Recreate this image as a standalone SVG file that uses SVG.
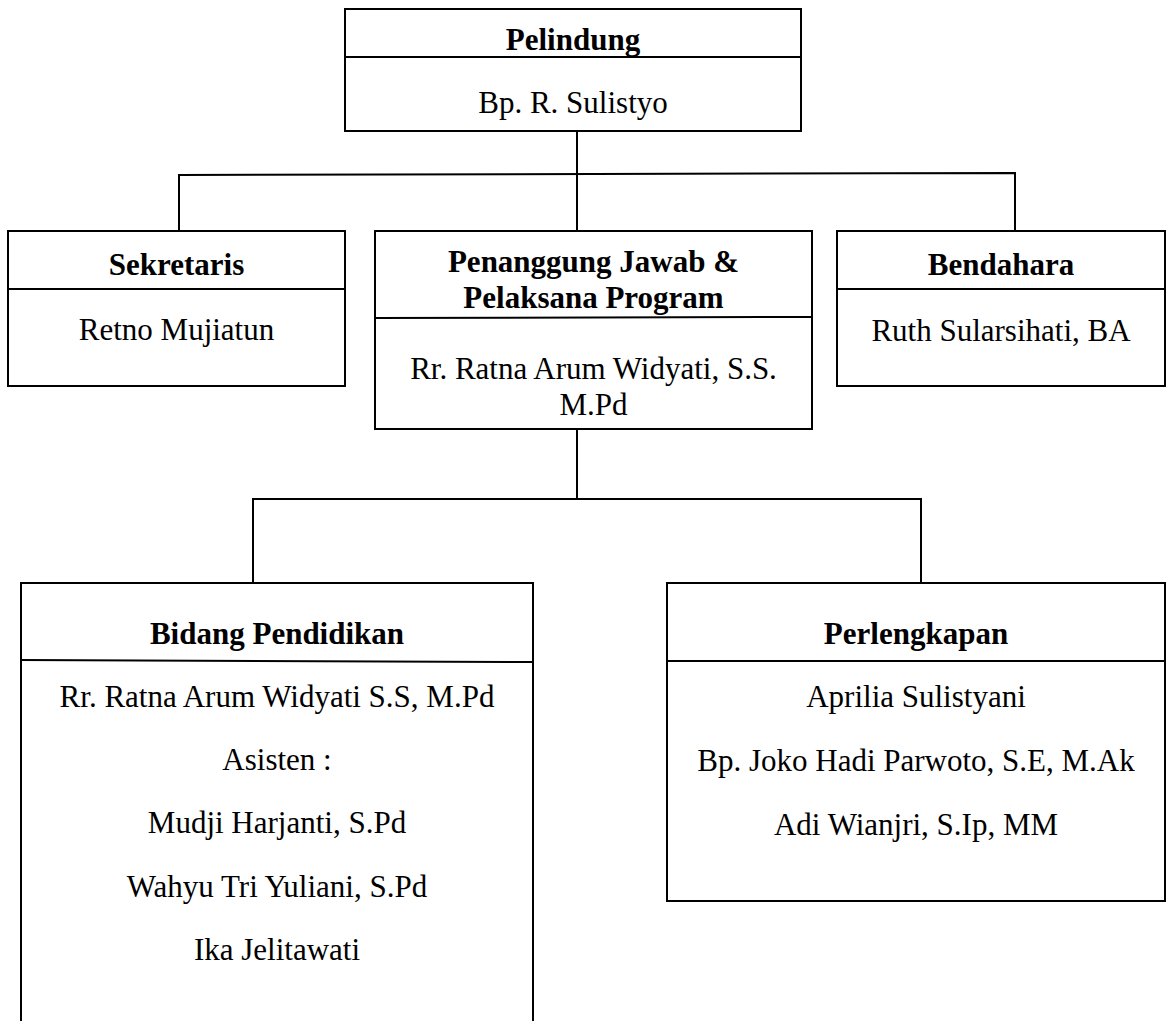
<svg xmlns="http://www.w3.org/2000/svg" width="1167" height="1021" viewBox="0 0 1167 1021">
<style>
.box{fill:#fff;stroke:#000;stroke-width:2}
.div{stroke:#000;stroke-width:2;fill:none}
.con{stroke:#000;stroke-width:2;fill:none}
text{font-family:"Liberation Serif","Times New Roman",serif;font-size:31px;fill:#000;text-anchor:middle}
.t{font-weight:bold}
</style>
<rect width="1167" height="1021" fill="#fff"/>
<g id="connectors">
<line class="con" x1="577" y1="131" x2="577" y2="231"/>
<polyline class="con" points="179,231 179,175 1015,173 1015,231"/>
<line class="con" x1="577" y1="429" x2="577" y2="499"/>
<polyline class="con" points="253,583 253,499 921,499 921,583"/>
</g>
<g id="pelindung">
<rect class="box" x="345" y="9" width="456" height="122"/>
<line class="div" x1="345" y1="57" x2="801" y2="57"/>
<text class="t" x="573" y="50">Pelindung</text>
<text x="573" y="113">Bp. R. Sulistyo</text>
</g>
<g id="sekretaris">
<rect class="box" x="8" y="231" width="337" height="155"/>
<line class="div" x1="8" y1="289" x2="345" y2="289"/>
<text class="t" x="176.5" y="275">Sekretaris</text>
<text x="176.5" y="340">Retno Mujiatun</text>
</g>
<g id="penanggung">
<rect class="box" x="375" y="231" width="437" height="198"/>
<line class="div" x1="375" y1="318" x2="812" y2="317"/>
<text class="t" x="593.5" y="272">Penanggung Jawab &amp;</text>
<text class="t" x="593.5" y="308">Pelaksana Program</text>
<text x="593.5" y="379">Rr. Ratna Arum Widyati, S.S.</text>
<text x="593.5" y="415">M.Pd</text>
</g>
<g id="bendahara">
<rect class="box" x="837" y="231" width="328" height="155"/>
<line class="div" x1="837" y1="289" x2="1165" y2="289"/>
<text class="t" x="1001" y="275">Bendahara</text>
<text x="1001" y="341">Ruth Sularsihati, BA</text>
</g>
<g id="bidang-pendidikan">
<rect class="box" x="21" y="583" width="512" height="460"/>
<line class="div" x1="21" y1="660" x2="533" y2="662"/>
<text class="t" x="277" y="644">Bidang Pendidikan</text>
<text x="277" y="707">Rr. Ratna Arum Widyati S.S, M.Pd</text>
<text x="277" y="770">Asisten :</text>
<text x="277" y="833">Mudji Harjanti, S.Pd</text>
<text x="277" y="897">Wahyu Tri Yuliani, S.Pd</text>
<text x="277" y="960">Ika Jelitawati</text>
</g>
<g id="perlengkapan">
<rect class="box" x="667" y="583" width="498" height="318"/>
<line class="div" x1="667" y1="661" x2="1165" y2="661"/>
<text class="t" x="916" y="644">Perlengkapan</text>
<text x="916" y="707">Aprilia Sulistyani</text>
<text x="916" y="771">Bp. Joko Hadi Parwoto, S.E, M.Ak</text>
<text x="916" y="835">Adi Wianjri, S.Ip, MM</text>
</g>
</svg>
